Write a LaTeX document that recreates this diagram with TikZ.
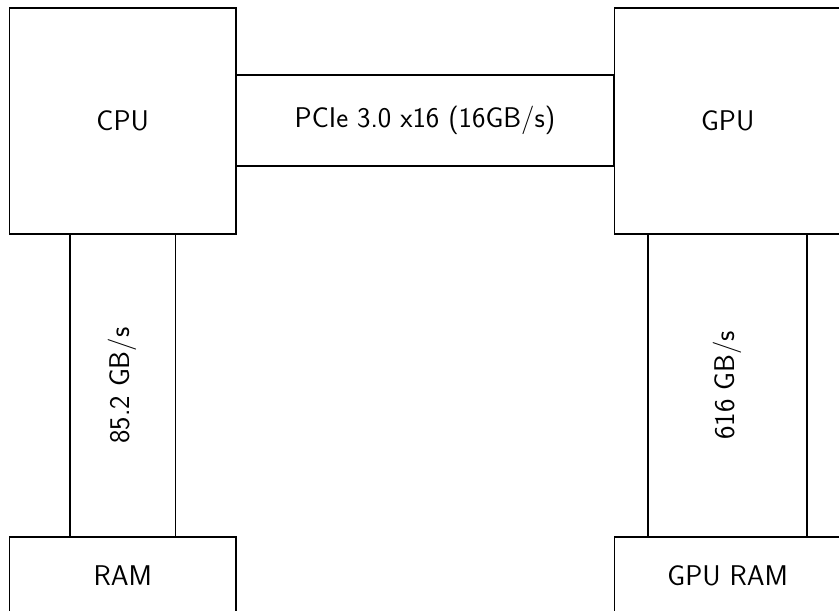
\documentclass[tikz,border=0pt]{standalone}
\begin{document}
\begin{tikzpicture}[x=1pt,y=-1pt,line width=1.8pt,
  font=\sffamily\fontsize{28.5}{34}\selectfont,
  unit/.style={draw, inner sep=0pt, outer sep=0pt, minimum width=226.5pt, minimum height=226pt},
  memory/.style={draw, inner sep=0pt, outer sep=0pt, minimum width=226.5pt, minimum height=78pt},
  link/.style={draw, inner sep=0pt, outer sep=0pt}]
\useasboundingbox (0,0) rectangle (839,611);
\clip (0,0) rectangle (839,611);
% links
\node[link, minimum width=378pt, minimum height=91pt] (pcie) at (425,120.5) {PCIe 3.0 x16 (16GB/s)};
\node[link, rotate=90, minimum width=303pt, minimum height=105.5pt] (cpuram) at (122.75,385.5) {85.2 GB/s};
\node[link, rotate=90, minimum width=303pt, minimum height=159pt] (gpuram) at (727.5,385.5) {616 GB/s};
% boxes
\node[unit, fill=white] (cpu) at (122.75,121) {CPU};
\node[unit, fill=white] (gpu) at (727.75,121) {GPU};
\node[memory, fill=white] (ram) at (122.75,576) {RAM};
\node[memory, fill=white] (gram) at (727.75,576) {GPU RAM};
\end{tikzpicture}
\end{document}
